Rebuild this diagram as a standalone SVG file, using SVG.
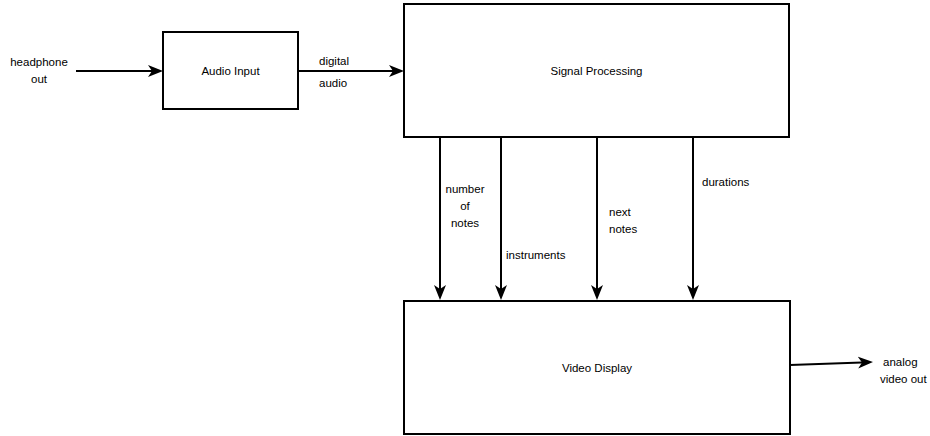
<svg xmlns="http://www.w3.org/2000/svg" width="930" height="436" viewBox="0 0 930 436">
  <style>
    .box { fill: #ffffff; stroke: #000000; stroke-width: 2; }
    .edge { fill: none; stroke: #000000; stroke-width: 2; }
    text { font-family: "Liberation Sans", Arial, Helvetica, sans-serif; font-size: 11.5px; fill: #000000; }
    .c { text-anchor: middle; }
    .l { text-anchor: start; }
  </style>
  <defs>
    <marker id="arrow" markerUnits="userSpaceOnUse" markerWidth="16" markerHeight="14" refX="11" refY="7" orient="auto">
      <path d="M0,1 L15,7 L0,13 L4,7 Z" fill="#000000"/>
    </marker>
  </defs>
  <rect width="930" height="436" fill="#ffffff"/>

  <g id="connectors">
    <path class="edge" d="M76,71 L159,71" marker-end="url(#arrow)"/>
    <path class="edge" d="M298,71 L400,71" marker-end="url(#arrow)"/>
    <path class="edge" d="M440,137 L440,296" marker-end="url(#arrow)"/>
    <path class="edge" d="M501,137 L501,296" marker-end="url(#arrow)"/>
    <path class="edge" d="M597,137 L597,296" marker-end="url(#arrow)"/>
    <path class="edge" d="M693,137 L693,296" marker-end="url(#arrow)"/>
    <path class="edge" d="M790,365 L869,362.2" marker-end="url(#arrow)"/>
  </g>

  <g id="labels">
    <text class="c" x="39" y="66">headphone</text>
    <text class="c" x="39" y="83">out</text>
    <text class="l" x="319" y="65">digital</text>
    <text class="l" x="319" y="87">audio</text>
    <text class="c" x="465" y="193">number</text>
    <text class="c" x="465" y="210">of</text>
    <text class="c" x="465" y="227">notes</text>
    <text class="l" x="506" y="259">instruments</text>
    <text class="l" x="609" y="216">next</text>
    <text class="l" x="609" y="233">notes</text>
    <text class="l" x="702" y="186">durations</text>
    <text class="l" x="883" y="366">analog</text>
    <text class="l" x="880" y="383">video out</text>
  </g>

  <g id="audio-input">
    <rect class="box" x="163" y="32" width="135" height="77"/>
    <text class="c" x="230.5" y="74.5">Audio Input</text>
  </g>

  <g id="signal-processing">
    <rect class="box" x="404" y="4" width="385" height="133"/>
    <text class="c" x="596.5" y="74.5">Signal Processing</text>
  </g>

  <g id="video-display">
    <rect class="box" x="404" y="301" width="386" height="133"/>
    <text class="c" x="597" y="371.5">Video Display</text>
  </g>
</svg>
